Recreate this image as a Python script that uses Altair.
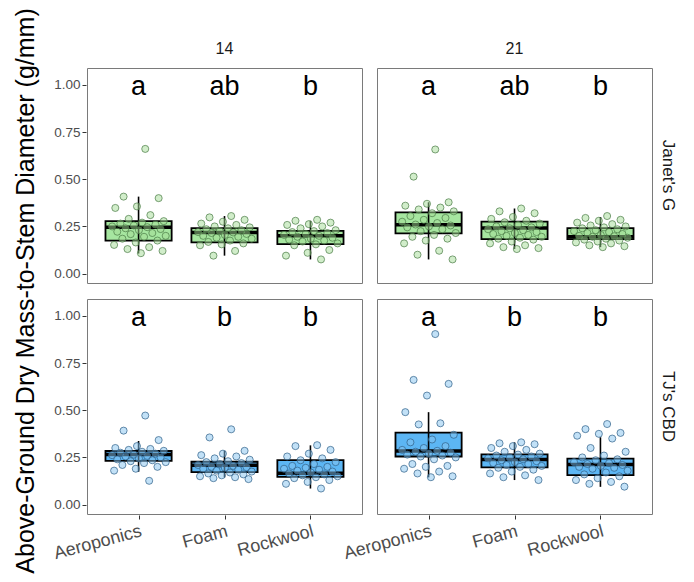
import json
import altair as alt
import pandas as pd

cultivars = ["Janet's G", "TJ's CBD"]
days = ["14", "21"]
media = ["Aeroponics", "Foam", "Rockwool"]

jg14_aero = [0.661, 0.408, 0.400, 0.356, 0.348, 0.310, 0.290, 0.278, 0.270, 0.265, 0.260, 0.255, 0.250, 0.246, 0.240,
             0.236, 0.230, 0.222, 0.215, 0.209, 0.200, 0.195, 0.185, 0.175, 0.165, 0.152, 0.140, 0.130, 0.120, 0.108]
jg14_foam = [0.305, 0.298, 0.285, 0.275, 0.265, 0.258, 0.250, 0.245, 0.240, 0.235, 0.230, 0.225, 0.220, 0.218, 0.215,
             0.210, 0.205, 0.200, 0.195, 0.190, 0.185, 0.175, 0.168, 0.160, 0.155, 0.150, 0.120, 0.095]
jg14_rock = [0.285, 0.280, 0.270, 0.262, 0.258, 0.250, 0.240, 0.230, 0.225, 0.220, 0.215, 0.210, 0.205, 0.200, 0.195,
             0.190, 0.185, 0.180, 0.175, 0.170, 0.160, 0.155, 0.150, 0.125, 0.110, 0.095, 0.075]
jg21_aero = [0.658, 0.514, 0.378, 0.370, 0.360, 0.350, 0.340, 0.330, 0.320, 0.305, 0.295, 0.285, 0.275, 0.268, 0.260,
             0.255, 0.250, 0.245, 0.235, 0.225, 0.215, 0.205, 0.195, 0.185, 0.175, 0.160, 0.121, 0.100, 0.075]
jg21_foam = [0.345, 0.330, 0.320, 0.300, 0.290, 0.280, 0.272, 0.265, 0.258, 0.250, 0.245, 0.240, 0.235, 0.230, 0.225,
             0.220, 0.215, 0.210, 0.205, 0.200, 0.195, 0.190, 0.185, 0.180, 0.170, 0.160, 0.150, 0.140, 0.135, 0.130]
jg21_rock = [0.305, 0.295, 0.285, 0.280, 0.270, 0.262, 0.255, 0.250, 0.245, 0.240, 0.235, 0.230, 0.225, 0.220, 0.215,
             0.210, 0.205, 0.200, 0.198, 0.195, 0.190, 0.185, 0.180, 0.175, 0.170, 0.165, 0.160, 0.150, 0.145, 0.140]
tj14_aero = [0.472, 0.392, 0.342, 0.310, 0.300, 0.295, 0.290, 0.285, 0.280, 0.275, 0.270, 0.265, 0.262, 0.258, 0.255,
             0.250, 0.245, 0.240, 0.235, 0.230, 0.225, 0.220, 0.210, 0.200, 0.190, 0.180, 0.126]
tj14_foam = [0.399, 0.356, 0.285, 0.270, 0.262, 0.255, 0.245, 0.238, 0.230, 0.225, 0.220, 0.215, 0.210, 0.205, 0.200,
             0.198, 0.195, 0.190, 0.185, 0.180, 0.175, 0.170, 0.165, 0.160, 0.155, 0.150, 0.145, 0.140, 0.135]
tj14_rock = [0.315, 0.310, 0.290, 0.270, 0.255, 0.245, 0.235, 0.225, 0.215, 0.205, 0.200, 0.195, 0.190, 0.185, 0.180,
             0.175, 0.170, 0.165, 0.160, 0.155, 0.150, 0.145, 0.140, 0.130, 0.120, 0.110, 0.085]
tj21_aero = [0.904, 0.661, 0.640, 0.578, 0.490, 0.431, 0.425, 0.370, 0.345, 0.330, 0.310, 0.300, 0.290, 0.285, 0.280,
             0.275, 0.270, 0.265, 0.260, 0.255, 0.250, 0.240, 0.215, 0.205, 0.200, 0.190, 0.175, 0.165, 0.150, 0.145]
tj21_foam = [0.330, 0.325, 0.320, 0.310, 0.300, 0.290, 0.280, 0.270, 0.265, 0.260, 0.255, 0.250, 0.245, 0.240, 0.235,
             0.230, 0.225, 0.220, 0.215, 0.210, 0.205, 0.200, 0.195, 0.185, 0.175, 0.165, 0.155, 0.145, 0.130]
tj21_rock = [0.427, 0.400, 0.380, 0.375, 0.365, 0.350, 0.300, 0.280, 0.260, 0.250, 0.240, 0.235, 0.225, 0.220, 0.215,
             0.210, 0.205, 0.200, 0.195, 0.190, 0.180, 0.170, 0.160, 0.150, 0.140, 0.130, 0.120, 0.110, 0.095]

# box summary per group, order: cultivar -> day -> medium
box_lower  = [0.106, 0.095, 0.075, 0.075, 0.130, 0.140, 0.174, 0.144, 0.085, 0.144, 0.130, 0.094]
box_q1     = [0.175, 0.165, 0.156, 0.213, 0.183, 0.183, 0.232, 0.172, 0.147, 0.255, 0.197, 0.156]
box_median = [0.246, 0.218, 0.200, 0.259, 0.241, 0.195, 0.266, 0.209, 0.166, 0.284, 0.239, 0.213]
box_q3     = [0.278, 0.241, 0.226, 0.324, 0.275, 0.241, 0.284, 0.227, 0.236, 0.381, 0.266, 0.244]
box_upper  = [0.408, 0.305, 0.280, 0.378, 0.345, 0.300, 0.337, 0.285, 0.314, 0.490, 0.330, 0.357]

letters = ["a", "ab", "b", "a", "ab", "b", "a", "b", "b", "a", "b", "b"]

point_lists = [jg14_aero, jg14_foam, jg14_rock, jg21_aero, jg21_foam, jg21_rock,
               tj14_aero, tj14_foam, tj14_rock, tj21_aero, tj21_foam, tj21_rock]

records = []
k = 0
for c in cultivars:
    for d in days:
        for m in media:
            for i, v in enumerate(point_lists[k]):
                records.append({"kind": "pt", "cultivar": c, "day": d, "medium": m, "value": v, "idx": i})
            records.append({"kind": "box", "cultivar": c, "day": d, "medium": m,
                            "lower": box_lower[k], "q1": box_q1[k], "median": box_median[k],
                            "q3": box_q3[k], "upper": box_upper[k], "letter": letters[k]})
            k += 1
df = pd.DataFrame(records)

FONT = "Liberation Sans"
box_colors = ["#a6e6a0", "#5cb6f4"]
pt_fill = ["#a3dc95", "#86c4f0"]
pt_stroke = ["#4a7a46", "#2f5f88"]

pos_expr = "indexof(" + json.dumps(media) + ", datum.medium) + 1"
label_expr = "[''," + ",".join("'" + m + "'" for m in media) + "][datum.value]"

xscale = alt.Scale(domain=[0.4, 3.6], nice=False, zero=False)
xaxis = alt.Axis(values=[1, 2, 3], labelExpr=label_expr, title=None, labelAngle=-15,
                 labelAlign="right", labelBaseline="top", labelFontSize=18, labelPadding=3)
yscale = alt.Scale(domain=[-0.05, 1.09], nice=False, zero=False)
yaxis = alt.Axis(values=[0, 0.25, 0.5, 0.75, 1.0], format=".2f", title=None, labelFontSize=13.5)

base = alt.Chart().transform_filter("datum.kind == 'box'").transform_calculate(
    xpos=pos_expr, xa=pos_expr + " - 0.385", xb=pos_expr + " + 0.385", ly="0.945"
)

boxes = base.mark_bar(stroke="black", strokeWidth=1.8).encode(
    x=alt.X("xa:Q", scale=xscale, axis=xaxis),
    x2="xb:Q",
    y=alt.Y("q1:Q", scale=yscale, axis=yaxis),
    y2="q3:Q",
    color=alt.Color("cultivar:N", scale=alt.Scale(domain=cultivars, range=box_colors), legend=None),
)

whisk = base.mark_rule(color="black", strokeWidth=1.6).encode(
    x=alt.X("xpos:Q", scale=xscale, axis=xaxis),
    y=alt.Y("lower:Q", scale=yscale, axis=yaxis),
    y2="upper:Q",
)

med = base.mark_rule(color="black", strokeWidth=3.5).encode(
    x=alt.X("xa:Q", scale=xscale, axis=xaxis),
    x2="xb:Q",
    y=alt.Y("median:Q", scale=yscale, axis=yaxis),
)

pts = alt.Chart().transform_filter("datum.kind == 'pt'").transform_calculate(
    xj=pos_expr + " + 0.66 * ((((datum.idx + 1) * 0.6180339887) % 1) - 0.5)"
).mark_circle(size=50, fillOpacity=0.5, strokeOpacity=0.7, strokeWidth=1).encode(
    x=alt.X("xj:Q", scale=xscale, axis=xaxis),
    y=alt.Y("value:Q", scale=yscale, axis=yaxis),
    fill=alt.Fill("cultivar:N", scale=alt.Scale(domain=cultivars, range=pt_fill), legend=None),
    stroke=alt.Stroke("cultivar:N", scale=alt.Scale(domain=cultivars, range=pt_stroke), legend=None),
)

txt = base.mark_text(
    fontSize=27, font=FONT, baseline="alphabetic", align="center", color="black"
).encode(
    x=alt.X("xpos:Q", scale=xscale, axis=xaxis),
    y=alt.Y("ly:Q", scale=yscale, axis=yaxis),
    text="letter:N",
)

layered = alt.layer(boxes, whisk, med, pts, txt, data=df).properties(width=275, height=215)

chart = layered.facet(
    row=alt.Row("cultivar:N", sort=cultivars,
                title="Above-Ground Dry Mass-to-Stem Diameter (g/mm)",
                header=alt.Header(labelOrient="right", labelAngle=90, labelFontSize=17,
                                  labelColor="#1a1a1a", labelFont=FONT, labelPadding=6,
                                  titleOrient="left", titleFontSize=25, titleFont=FONT,
                                  titleFontWeight="normal", titleColor="black", titlePadding=4)),
    column=alt.Column("day:N", sort=days, title=None,
                      header=alt.Header(labelFontSize=16, labelColor="#1a1a1a", labelFont=FONT,
                                        labelPadding=10)),
    spacing={"row": 14, "column": 13},
).configure_view(
    stroke="#7a7a7a", strokeWidth=1
).configure_axis(
    domain=False, grid=False, tickColor="#333333", tickSize=4, labelColor="#4d4d4d",
    labelFont=FONT
).properties(padding={"top": 0, "left": 5, "right": 5, "bottom": 5})

chart.save("out.html", embed_options={"renderer": "svg", "actions": False})
